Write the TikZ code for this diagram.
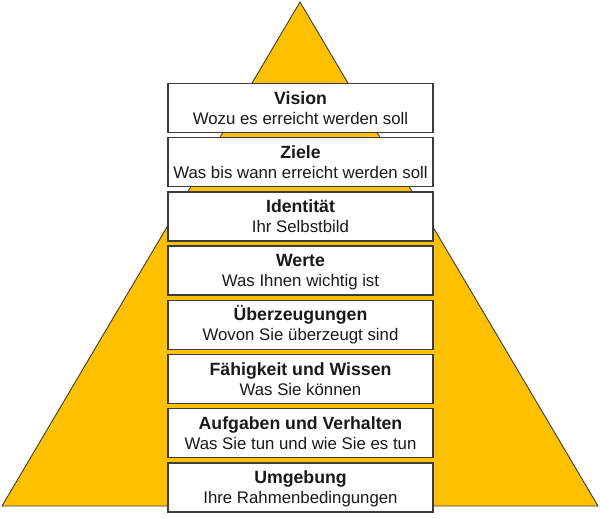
\documentclass[tikz,border=0pt]{standalone}
\usepackage{fontspec}
\setmainfont{Liberation Sans}
\definecolor{pyr}{HTML}{FFC000}
\definecolor{edge}{HTML}{3C3C3C}
\begin{document}
\begin{tikzpicture}[x=1pt,y=-1pt,
  layer/.style={draw=edge,line width=1.3pt,fill=white,minimum width=265pt,minimum height=49pt,inner sep=0pt},
  ttl/.style={anchor=base,inner sep=0pt,font=\fontsize{17.7}{20}\selectfont\bfseries,text=black!90},
  sub/.style={anchor=base,inner sep=0pt,font=\fontsize{16.8}{20}\selectfont,text=black!90}]
\useasboundingbox (0,0) rectangle (600,519);
\path[fill=pyr,draw=edge,line width=0.9pt] (300,2) coordinate (apex) -- (598,506) coordinate (br) -- (2,506) coordinate (bl) -- cycle;
\foreach \i/\y/\t/\s in {
  1/108.0/Vision/Wozu es erreicht werden soll,
  2/162.2/Ziele/Was bis wann erreicht werden soll,
  3/216.4/Identität/Ihr Selbstbild,
  4/270.6/Werte/Was Ihnen wichtig ist,
  5/324.8/Überzeugungen/Wovon Sie überzeugt sind,
  6/379.0/Fähigkeit und Wissen/Was Sie können,
  7/433.2/Aufgaben und Verhalten/Was Sie tun und wie Sie es tun,
  8/487.4/Umgebung/Ihre Rahmenbedingungen}{
  \node[layer] (l\i) at (300.5,\y) {};
  \node[ttl] (t\i) at ([yshift=-21.2pt]l\i.north) {\t};
  \node[sub] (s\i) at ([yshift=-41.3pt]l\i.north) {\s};
}
\end{tikzpicture}
\end{document}
